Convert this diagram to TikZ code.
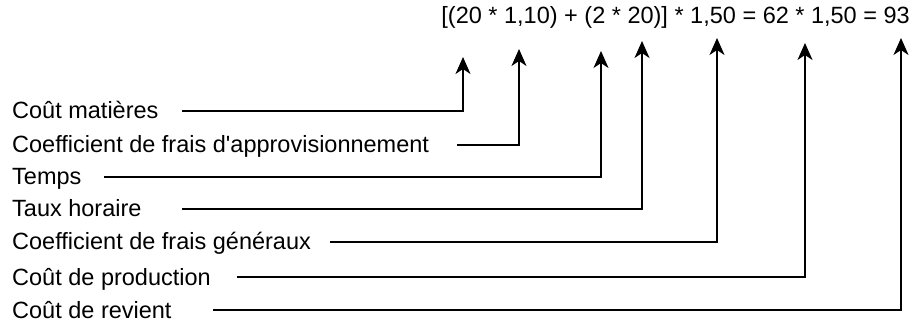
\documentclass[tikz,border=0pt]{standalone}
\usepackage{fontspec}
\setmainfont{Liberation Sans}
\usetikzlibrary{arrows.meta,positioning}

\begin{document}
\begin{tikzpicture}[
  x=1pt,y=-1pt,
  font=\fontsize{23.5}{28}\selectfont,
  lbl/.style={inner sep=0pt,anchor=base west},
  arr/.style={-{Stealth[length=17pt,width=15pt,inset=5pt]},line width=1.8pt}
]
\useasboundingbox (0,0) rectangle (916,323);
\node[inner sep=0pt,anchor=base east] (calc) at (910,24) {[(20 * 1,10) + (2 * 20)] * 1,50 = 62 * 1,50 = 93};
\node[lbl] (cm)  at (12,119) {Coût matières};
\node[lbl] (cfa) at (12,153) {Coefficient de frais d\textquotesingle approvisionnement};
\node[lbl] (tps) at (12,185) {Temps};
\node[lbl] (th)  at (12,217) {Taux horaire};
\node[lbl] (cfg) at (12,250) {Coefficient de frais généraux};
\node[lbl] (cp)  at (12,285) {Coût de production};
\node[lbl] (cr)  at (12,318) {Coût de revient};
\coordinate (cm-s)  at (182,111);
\coordinate (cfa-s) at (457,145);
\coordinate (tps-s) at (104,177);
\coordinate (th-s)  at (182,209);
\coordinate (cfg-s) at (330,242);
\coordinate (cp-s)  at (237,277);
\coordinate (cr-s)  at (213,310);
\coordinate (cm-t)  at (463,57);
\coordinate (cfa-t) at (519,49);
\coordinate (tps-t) at (601,51);
\coordinate (th-t)  at (642,41);
\coordinate (cfg-t) at (717,38);
\coordinate (cp-t)  at (805,43);
\coordinate (cr-t)  at (901,38);
\draw[arr] (cm-s) -| (cm-t);
\draw[arr] (cfa-s) -| (cfa-t);
\draw[arr] (tps-s) -| (tps-t);
\draw[arr] (th-s) -| (th-t);
\draw[arr] (cfg-s) -| (cfg-t);
\draw[arr] (cp-s) -| (cp-t);
\draw[arr] (cr-s) -| (cr-t);
\end{tikzpicture}
\end{document}
